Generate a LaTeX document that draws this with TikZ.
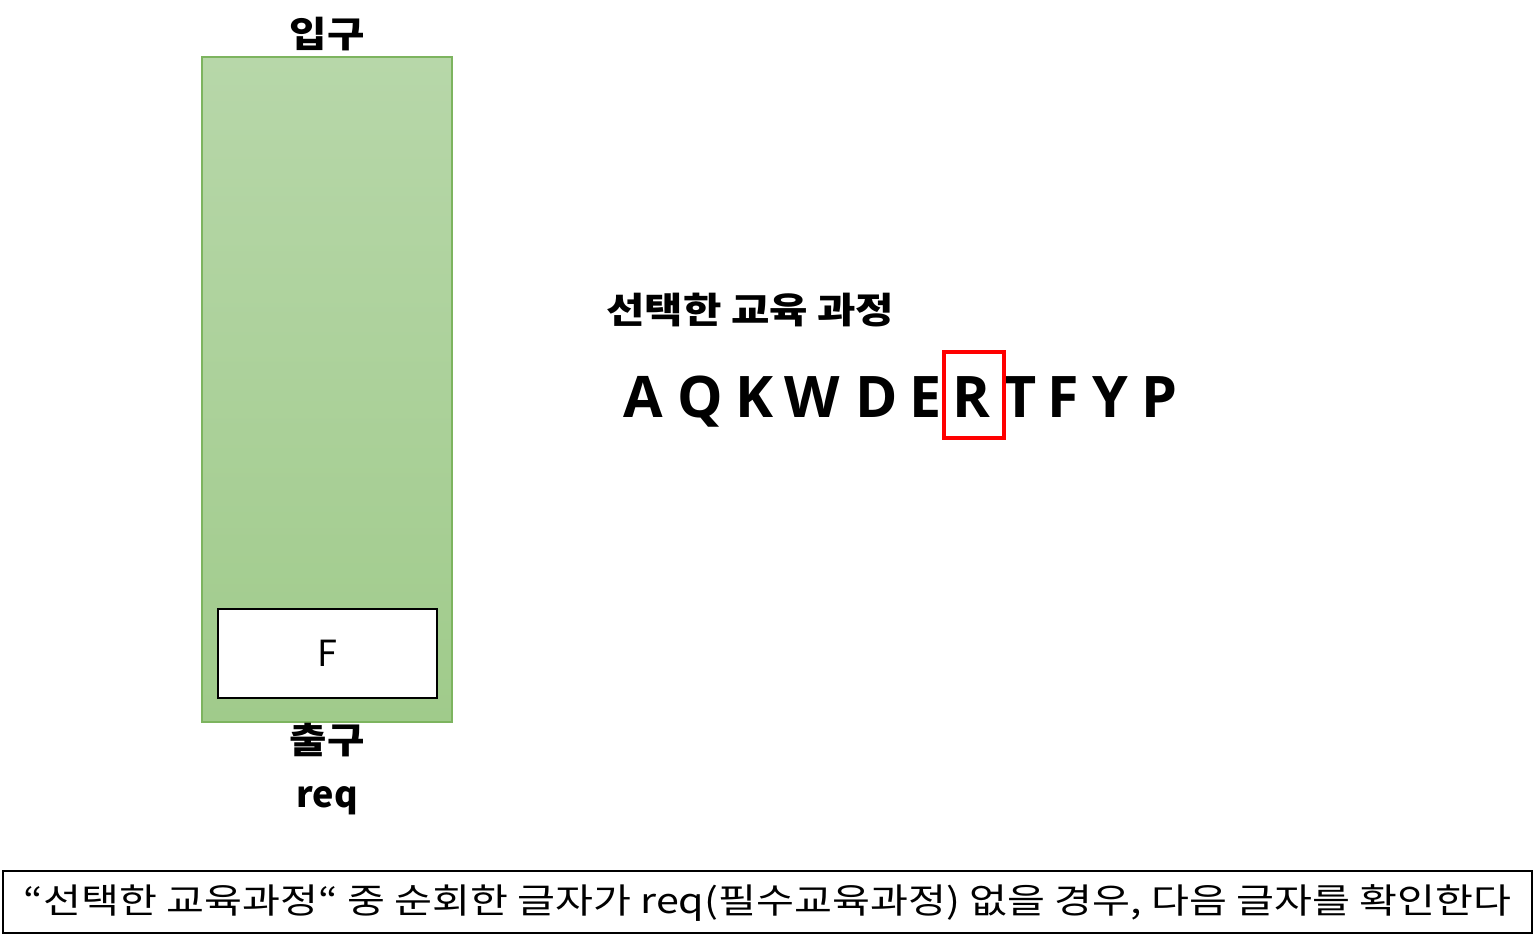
\documentclass[tikz,border=0pt]{standalone}
\usepackage{fontspec}
\setmainfont{Noto Sans CJK KR}
\newfontfamily\latinb{Open Sans}
\definecolor{gtop}{HTML}{B7D7A9}
\definecolor{gbot}{HTML}{A0CB8B}
\definecolor{gedge}{HTML}{7DB45F}
\begin{document}
\begin{tikzpicture}[x=0.75pt,y=0.75pt,
  lbl/.style={font=\fontsize{27}{30}\selectfont\bfseries, inner sep=0pt},
  letter/.style={font=\latinb\fontsize{43}{48}\selectfont\bfseries, inner sep=0pt, anchor=base}]
\useasboundingbox (0,0) rectangle (1535,947);
% queue
\node[draw=gedge, line width=0.8pt, top color=gtop, bottom color=gbot, minimum width=250*0.75pt, minimum height=665*0.75pt, inner sep=0pt] (queue) at (327,557.5) {};
\node[draw=black, line width=1.6pt, fill=white, minimum width=219*0.75pt, minimum height=89*0.75pt, inner sep=0pt, font=\fontsize{27}{30}\selectfont] (fbox) at (327.5,293.5) {F};
\node[lbl] (in) at (327,913) {\scalebox{1.13}[1]{입구}};
\node[lbl] (out) at (327,207) {\scalebox{1.13}[1]{출구}};
\node[lbl] (req) at (327,146) {req};
% selected courses
\node[lbl, anchor=west] (sel) at (606,637) {\scalebox{1.16}[1]{선택한 교육 과정}};
\node[letter] (lA) at (643.5,529) {A};
\node[letter] (lQ) at (700,529) {Q};
\node[letter] (lK) at (754.5,529) {K};
\node[letter] (lW) at (812.5,529) {W};
\node[letter] (lD) at (877,529) {D};
\node[letter] (lE) at (926,529) {E};
\node[letter] (lR) at (971.5,529) {R};
\node[letter] (lT) at (1020,529) {T};
\node[letter] (lF) at (1063.5,529) {F};
\node[letter] (lY) at (1110,529) {Y};
\node[letter] (lP) at (1159,529) {P};
\node[draw=red, line width=3pt, minimum width=60*0.75pt, minimum height=86*0.75pt, inner sep=0pt] (hl) at (973.5,551.5) {};
% caption
\node[draw=black, line width=1.5pt, minimum width=1529*0.75pt, minimum height=62*0.75pt, inner sep=0pt] (capbox) at (767.5,45) {};
\node[font=\fontsize{26}{30}\selectfont, inner sep=0pt] (cap) at (767.5,44) {\scalebox{1.19}[1]{“선택한 교육과정“ 중 순회한 글자가 req(필수교육과정) 없을 경우, 다음 글자를 확인한다}};
\end{tikzpicture}
\end{document}
